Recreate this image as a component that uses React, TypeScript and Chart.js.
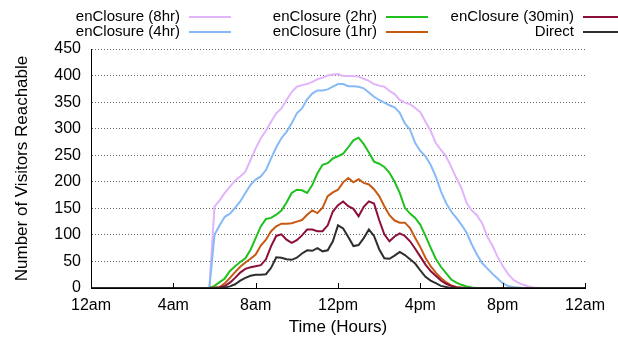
import React, { useEffect, useRef } from "react";
import { Chart, registerables } from "chart.js";

Chart.register(...registerables);

// x: one value every 15 minutes, from 12am (index 0) to 12am next day (index 96)
const TICK_LABELS = ["12am", "4am", "8am", "12pm", "4pm", "8pm", "12am"];
const SERIES_NAMES = ["enClosure (8hr)", "enClosure (4hr)", "enClosure (2hr)", "enClosure (1hr)", "enClosure (30min)", "Direct"];
const COLORS = ["#e2b4fb", "#86baf7", "#1fc01f", "#c65a12", "#8c0f38", "#2e2e2e"];

const enc8hr = [
  0, 0, 0, 0, 0, 0, 0, 0, 0, 0, 0, 0, 0, 0, 0, 0, 0, 0, 0, 0, 0, 0, 0, 0,
  153, 165, 179, 191, 202, 210, 219, 241,
  263, 282, 296, 313, 329, 338, 354, 369,
  379, 382, 384, 388, 393, 396, 400, 402,
  403, 399, 399, 399, 398, 394, 390, 384,
  381, 379, 371, 365, 354, 349, 346, 339,
  331, 313, 296, 273, 260, 248, 228, 207,
  188, 160, 146, 137, 122, 97, 80, 59,
  42, 27, 16, 10, 6, 3, 1, 0,
  0, 0, 0, 0, 0, 0, 0, 0,
  0,
];
const enc4hr = [
  0, 0, 0, 0, 0, 0, 0, 0, 0, 0, 0, 0, 0, 0, 0, 0, 0, 0, 0, 0, 0, 0, 0, 0,
  100, 118, 134, 140, 151, 163, 179, 194,
  204, 210, 222, 244, 265, 282, 294, 310,
  329, 338, 355, 366, 372, 372, 374, 379,
  384, 384, 380, 380, 379, 376, 368, 360,
  354, 349, 344, 340, 330, 310, 298, 273,
  258, 248, 232, 210, 182, 160, 144, 132,
  119, 104, 82, 63, 47, 37, 27, 18,
  9, 4, 2, 1, 0, 0, 0, 0,
  0, 0, 0, 0, 0, 0, 0, 0,
  0,
];
const enc2hr = [
  0, 0, 0, 0, 0, 0, 0, 0, 0, 0, 0, 0, 0, 0, 0, 0, 0, 0, 0, 0, 0, 0, 0, 0,
  4, 11, 18, 32, 41, 49, 56, 72,
  94, 116, 130, 132, 138, 146, 161, 179,
  185, 184, 179, 194, 216, 232, 235, 244,
  248, 253, 265, 278, 283, 271, 255, 238,
  234, 228, 217, 200, 179, 151, 140, 132,
  119, 98, 76, 55, 40, 28, 16, 10,
  6, 3, 1, 0, 0, 0, 0, 0,
  0, 0, 0, 0, 0, 0, 0, 0,
  0, 0, 0, 0, 0, 0, 0, 0,
  0,
];
const enc1hr = [
  0, 0, 0, 0, 0, 0, 0, 0, 0, 0, 0, 0, 0, 0, 0, 0, 0, 0, 0, 0, 0, 0, 0, 0,
  1, 2, 9, 19, 30, 40, 48, 55,
  63, 80, 91, 107, 116, 121, 121, 122,
  125, 128, 138, 146, 141, 151, 173, 180,
  185, 199, 207, 199, 205, 198, 195, 186,
  173, 154, 137, 127, 123, 123, 113, 94,
  77, 57, 41, 29, 19, 11, 5, 2,
  1, 0, 0, 0, 0, 0, 0, 0,
  0, 0, 0, 0, 0, 0, 0, 0,
  0, 0, 0, 0, 0, 0, 0, 0,
  0,
];
const enc30min = [
  0, 0, 0, 0, 0, 0, 0, 0, 0, 0, 0, 0, 0, 0, 0, 0, 0, 0, 0, 0, 0, 0, 0, 0,
  0, 1, 4, 10, 19, 29, 36, 39,
  41, 43, 54, 79, 98, 101, 91, 85,
  90, 99, 110, 110, 107, 107, 118, 144,
  156, 163, 154, 149, 135, 153, 163, 159,
  128, 101, 88, 97, 103, 98, 88, 74,
  59, 44, 32, 23, 14, 8, 4, 1,
  0, 0, 0, 0, 0, 0, 0, 0,
  0, 0, 0, 0, 0, 0, 0, 0,
  0, 0, 0, 0, 0, 0, 0, 0,
  0,
];
const direct = [
  0, 0, 0, 0, 0, 0, 0, 0, 0, 0, 0, 0, 0, 0, 0, 0, 0, 0, 0, 0, 0, 0, 0, 0,
  0, 0, 1, 3, 7, 14, 19, 23,
  25, 25, 26, 38, 58, 57, 54, 53,
  57, 65, 71, 70, 75, 69, 71, 88,
  118, 112, 96, 79, 81, 94, 110, 98,
  73, 56, 55, 61, 68, 62, 54, 46,
  33, 21, 14, 9, 4, 2, 0, 0,
  0, 0, 0, 0, 0, 0, 0, 0,
  0, 0, 0, 0, 0, 0, 0, 0,
  0, 0, 0, 0, 0, 0, 0, 0,
  0,
];

const SERIES = [enc8hr, enc4hr, enc2hr, enc1hr, enc30min, direct];
const FONT = "'Liberation Sans', Arial, Helvetica, sans-serif";

const legendPlugin = {
  id: "gnuLegend",
  afterDraw(chart: any) {
    const ctx = chart.ctx;
    ctx.save();
    ctx.font = `15px ${FONT}`;
    ctx.textAlign = "right";
    ctx.textBaseline = "middle";
    const lineStarts = [189, 386, 583];
    const rows = [17, 32];
    chart.data.datasets.forEach((ds: any, i: number) => {
      const col = Math.floor(i / 2);
      const row = i % 2;
      const x0 = lineStarts[col];
      const y = rows[row];
      ctx.fillStyle = "#000";
      ctx.fillText(ds.label, x0 - 9, y);
      ctx.strokeStyle = ds.borderColor;
      ctx.lineWidth = 2;
      ctx.beginPath();
      ctx.moveTo(x0, y);
      ctx.lineTo(x0 + 42, y);
      ctx.stroke();
    });
    ctx.restore();
  },
};

const innerTicksPlugin = {
  id: "innerTicks",
  afterDraw(chart: any) {
    const ctx = chart.ctx;
    const xs = chart.scales.x;
    const bottom = chart.chartArea.bottom;
    ctx.save();
    ctx.strokeStyle = "#000";
    ctx.lineWidth = 1;
    ctx.beginPath();
    xs.ticks.forEach((t: any) => {
      const px = Math.round(xs.getPixelForValue(t.value)) + 0.5;
      ctx.moveTo(px, bottom);
      ctx.lineTo(px, bottom - 5);
    });
    ctx.stroke();
    ctx.restore();
  },
};

export default function App() {
  const ref = useRef<HTMLCanvasElement>(null);
  useEffect(() => {
    if (!ref.current) return;
    const chart = new Chart(ref.current, {
      type: "line",
      data: {
        datasets: SERIES.map((vals, i) => ({
          label: SERIES_NAMES[i],
          data: vals.map((v, j) => ({ x: j / 4, y: v })),
          borderColor: COLORS[i],
          backgroundColor: COLORS[i],
          borderWidth: 2,
          pointRadius: 0,
          tension: 0,
          fill: false,
          order: SERIES.length - i,
        })),
      },
      options: {
        responsive: false,
        animation: false,
        devicePixelRatio: 1,
        layout: { padding: { top: 49, right: 33, left: 0, bottom: 0 } },
        plugins: { legend: { display: false }, tooltip: { enabled: false } },
        scales: {
          x: {
            type: "linear",
            min: 0,
            max: 24,
            afterFit: (s: any) => {
              s.height = 54;
            },
            ticks: {
              stepSize: 4,
              autoSkip: false,
              maxRotation: 0,
              padding: 8,
              color: "#000",
              font: { family: FONT, size: 16 },
              callback: (v: any) => TICK_LABELS[Math.round(Number(v) / 4)],
            },
            grid: { display: true, drawOnChartArea: false, drawTicks: false },
            border: { display: true, color: "#000", width: 1 },
            title: {
              display: true,
              text: "Time (Hours)",
              color: "#000",
              font: { family: FONT, size: 17 },
              padding: { top: 0, bottom: 4 },
            },
          },
          y: {
            min: 0,
            max: 450,
            afterFit: (s: any) => {
              s.width = 91;
            },
            ticks: {
              stepSize: 50,
              padding: 10,
              color: "#000",
              font: { family: FONT, size: 16 },
            },
            grid: { color: "#666", drawTicks: false, lineWidth: 1 },
            border: { display: true, color: "#000", width: 1, dash: [1, 2] },
            title: {
              display: true,
              text: "Number of Visitors Reachable",
              color: "#000",
              font: { family: FONT, size: 17 },
              padding: { top: 12, bottom: 0 },
            },
          },
        },
      },
      plugins: [legendPlugin, innerTicksPlugin],
    });
    return () => chart.destroy();
  }, []);
  return (
    <div style={{ position: "absolute", left: 0, top: 0, width: 618, height: 342 }}>
      <canvas ref={ref} width={618} height={342} />
    </div>
  );
}
